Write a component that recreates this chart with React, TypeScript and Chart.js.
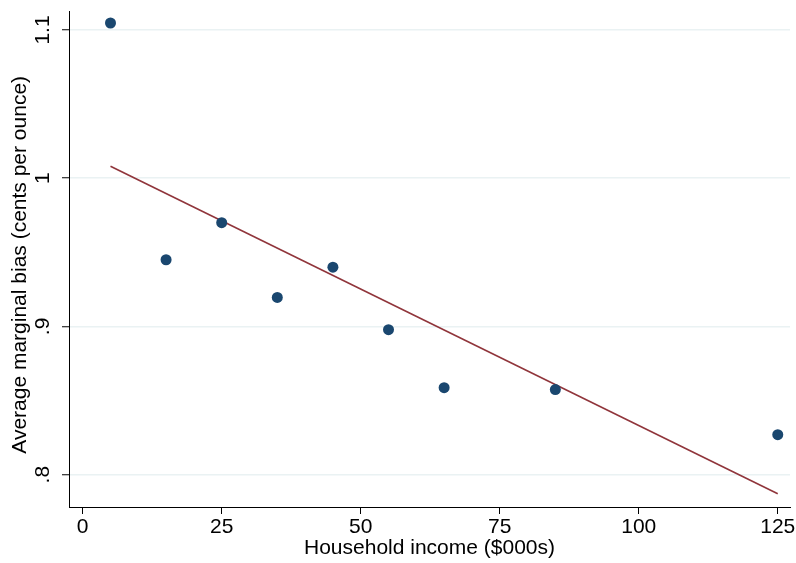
import React, { useEffect, useRef } from "react";
import { Chart, registerables } from "chart.js";

Chart.register(...registerables);

const incomeLevels = [5, 15, 25, 35, 45, 55, 65, 85, 125];
const marginalBias = [1.1047, 0.945, 0.970, 0.9196, 0.940, 0.8978, 0.8587, 0.8574, 0.827];
const fitX = [5, 125];
const fitY = [1.0081, 0.7872];
const xTicks = [0, 25, 50, 75, 100, 125];
const yTicks = [0.8, 0.9, 1.0, 1.1];
const yTickLabels = [".8", ".9", "1", "1.1"];
const xTitle = "Household income ($000s)";
const yTitle = "Average marginal bias (cents per ounce)";

const FONT = "'Liberation Sans', Arial, Helvetica, sans-serif";

export default function App() {
  const ref = useRef<HTMLCanvasElement | null>(null);
  useEffect(() => {
    if (!ref.current) return;
    const chart = new Chart(ref.current, {
      type: "scatter",
      data: {
        datasets: [
          {
            type: "scatter",
            data: incomeLevels.map((x, i) => ({ x, y: marginalBias[i] })),
            backgroundColor: "#1a476f",
            borderColor: "#1a476f",
            pointRadius: 5.5,
            borderWidth: 0,
            order: 1,
          },
          {
            type: "line",
            data: fitX.map((x, i) => ({ x, y: fitY[i] })),
            borderColor: "#90353b",
            borderWidth: 1.6,
            pointRadius: 0,
            fill: false,
            order: 2,
          } as any,
        ],
      },
      options: {
        responsive: false,
        animation: false,
        devicePixelRatio: 1,
        layout: { padding: { left: 0, right: 6, top: 11, bottom: 0 } },
        plugins: { legend: { display: false }, tooltip: { enabled: false } },
        scales: {
          x: {
            type: "linear",
            min: -2.46,
            max: 127.2,
            afterBuildTicks: (s: any) => {
              s.ticks = xTicks.map((v) => ({ value: v }));
            },
            afterFit: (s: any) => {
              s.height = 56;
              s.paddingLeft = 0;
              s.paddingRight = 0;
            },
            grid: {
              drawOnChartArea: false,
              drawTicks: true,
              tickLength: 7,
              tickColor: "#000",
              tickWidth: 1,
            },
            border: { color: "#000", width: 1 },
            ticks: {
              color: "#000",
              font: { family: FONT, size: 21 },
              padding: 1,
              maxRotation: 0,
              minRotation: 0,
            },
            title: {
              display: true,
              text: xTitle,
              color: "#000",
              font: { family: FONT, size: 21 },
              padding: { top: 0, bottom: 2 },
            },
          },
          y: {
            type: "linear",
            min: 0.7782,
            max: 1.1128,
            afterBuildTicks: (s: any) => {
              s.ticks = yTicks.map((v) => ({ value: v }));
            },
            afterFit: (s: any) => {
              s.width = 69;
              s.paddingTop = 0;
              s.paddingBottom = 0;
            },
            grid: {
              drawOnChartArea: true,
              color: "#eaf2f3",
              lineWidth: 1.5,
              drawTicks: true,
              tickLength: 7,
              tickColor: "#000",
              tickWidth: 1,
            },
            border: { color: "#000", width: 1 },
            ticks: {
              color: "#000",
              font: { family: FONT, size: 21 },
              padding: 4,
              minRotation: 90,
              maxRotation: 90,
              crossAlign: "center",
              callback: (v: any) => {
                const i = yTicks.findIndex((t) => Math.abs(t - Number(v)) < 1e-6);
                return i >= 0 ? yTickLabels[i] : "";
              },
            },
            title: {
              display: true,
              text: yTitle + "  ",
              color: "#000",
              font: { family: FONT, size: 21 },
              padding: { top: 8, bottom: 0 },
            },
          },
        },
      },
    });
    return () => chart.destroy();
  }, []);
  return (
    <div style={{ position: "fixed", left: 0, top: 0, width: 796, height: 563, background: "#fff" }}>
      <canvas ref={ref} width={796} height={563} style={{ width: 796, height: 563 }} />
    </div>
  );
}
